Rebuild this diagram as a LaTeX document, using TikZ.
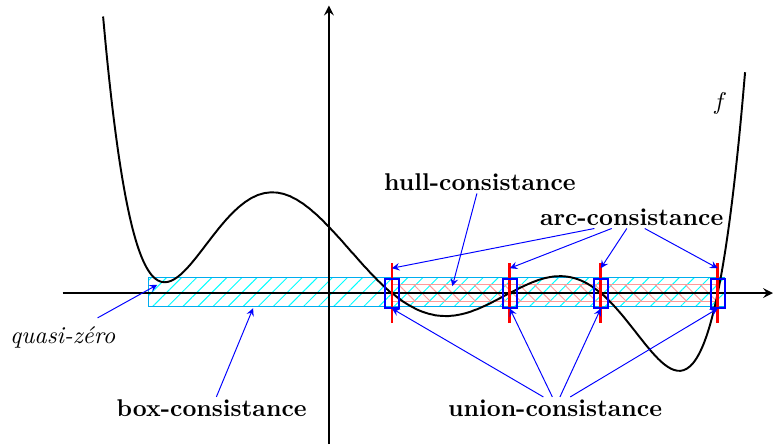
\documentclass[tikz,border=0pt]{standalone}
\usetikzlibrary{patterns.meta}
\begin{document}
\begin{tikzpicture}[>=stealth,
    lbl/.style={font=\bfseries, inner sep=1pt},
    rootbox/.style={draw=blue, thick, minimum width=0.2cm, minimum height=0.42cm, inner sep=0pt},
    link/.style={->, blue}]
    \useasboundingbox (-4.77,-2.19) rectangle (6.44,4.25);

    % Hatched boxes around the axis
    \draw[cyan, pattern={Lines[angle=45,distance=4.4pt]}, pattern color=cyan] (-2.62,-0.2) rectangle (5.74,0.22);
    \draw[red!40, pattern={Lines[angle=-45,distance=4.4pt]}, pattern color=red!40] (0.91,-0.12) rectangle (5.64,0.12);

    % Axes
    \draw[thick, ->] (-3.86,0) -- (6.44,0);
    \draw[thick, ->] (0,-2.19) -- (0,4.17);

    % Function f
    \draw[thick, domain=-3.275:6.035, samples=200, smooth, variable=\x]
        plot ({\x}, {0.0031*(\x-0.913)*(\x-2.623)*(\x-3.942)*(\x-5.638)*((\x+2.406)^2+0.06)});
    \node (flbl) at (5.67,2.75) {$f$};

    % Roots: red ticks and blue boxes
    \foreach \r [count=\i] in {0.913,2.623,3.942,5.638} {
        \draw[red, line width=1.1pt] (\r,-0.435) -- (\r,0.435);
        \coordinate (t\i) at (\r,0.36);
        \node[rootbox] (b\i) at (\r,0) {};
    }

    % Labels
    \node (qz) at (-3.86,-0.64) {\textit{quasi-zéro}};
    \node[lbl] (boxc) at (-1.70,-1.67) {box-consistance};
    \node[lbl] (hullc) at (2.19,1.61) {hull-consistance};
    \node[lbl] (arcc) at (4.39,1.10) {arc-consistance};
    \node[lbl] (unionc) at (3.28,-1.67) {union-consistance};

    \coordinate (qzpt) at (-2.49,0.12);
    \coordinate (boxpt) at (-1.10,-0.22);
    \coordinate (hullpt) at (1.79,0.10);

    % Arrows
    \draw[link] (qz) -- (qzpt);
    \draw[link] (boxc) -- (boxpt);
    \draw[link] (hullc) -- (hullpt);
    \foreach \i/\s in {1/-0.54, 2/-0.29, 3/-0.07, 4/0.19}
        \draw[link] ([xshift=\s cm]arcc.south) -- (t\i);
    \foreach \i/\s in {1/-0.17, 2/-0.04, 3/0.07, 4/0.22}
        \draw[link] ([xshift=\s cm]unionc.north) -- (b\i.south);
\end{tikzpicture}
\end{document}
